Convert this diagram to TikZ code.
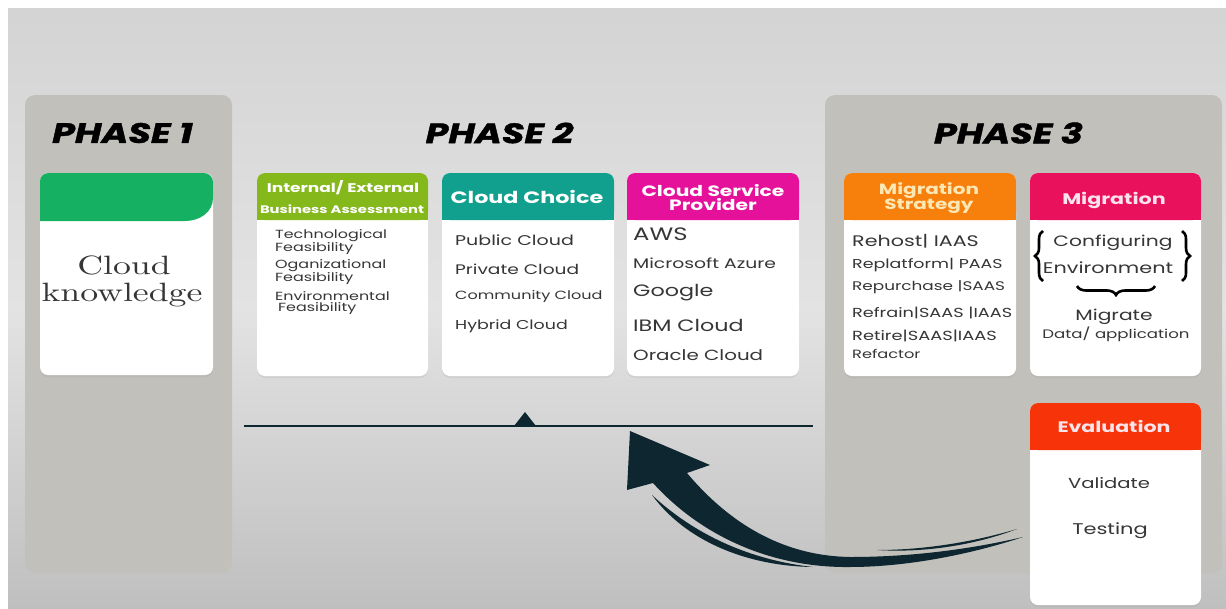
\documentclass[tikz,border=0pt]{standalone}
\usepackage{fontspec}
\setsansfont{Poppins}[FakeStretch=1.35]
\newfontfamily\phasefont{Poppins}[FakeStretch=1.3, FakeBold=1.5]
\newfontfamily\ckfont{lmroman10-regular.otf}[FakeStretch=1.35]
\usetikzlibrary{shadows,decorations.pathreplacing}
\definecolor{cgreen}{HTML}{16B062}
\definecolor{colive}{HTML}{84B81B}
\definecolor{cteal}{HTML}{12A08E}
\definecolor{cmag}{HTML}{E6119B}
\definecolor{corange}{HTML}{F7800C}
\definecolor{ccrim}{HTML}{E9115C}
\definecolor{cred}{HTML}{F73409}
\definecolor{ccol}{HTML}{C2C0BA}
\definecolor{carrow}{HTML}{0E2630}
\definecolor{ctext}{HTML}{363636}
\definecolor{cpaleY}{HTML}{FDE7B4}
\definecolor{cpaleP}{HTML}{FBE3EC}
\tikzset{
  cardbody/.style={fill=white, rounded corners=8pt, draw=none, inner sep=0pt,
    drop shadow={shadow xshift=0pt, shadow yshift=-2pt, opacity=0.12}},
  column/.style={fill=ccol, rounded corners=10pt},
  phase/.style={font=\phasefont\bfseries\itshape\fontsize{28}{28}\selectfont, text=black, inner sep=0pt},
  hd/.style={font=\sffamily\bfseries\fontsize{#1}{14}\selectfont, text=white, inner sep=0pt, align=center},
  it/.style={font=\sffamily\fontsize{#1}{#1}\selectfont, text=ctext, inner sep=0pt, anchor=west},
  itc/.style={font=\sffamily\fontsize{#1}{#1}\selectfont, text=ctext, inner sep=0pt},
  two/.style={font=\sffamily\fontsize{11.8}{11}\selectfont, text=ctext, inner sep=0pt, align=left, anchor=north west},
  ckstyle/.style={font=\ckfont\fontsize{26.5}{24}\selectfont, text=ctext, inner sep=0pt, anchor=base},
  brc/.style={draw=black, line width=2.6pt, decorate},
}
\newcommand{\mkcard}[7]{%
  \node[cardbody, minimum width={#4-#2}, minimum height={#5-#3}] (#1) at ({(#2+#4)/2},{(#3+#5)/2}) {};
  \fill[#7, rounded corners=8pt] (#2,#3) rectangle (#4,#6);
  \fill[#7] (#2,{#3+10}) rectangle (#4,#6);
}
\begin{document}
\begin{tikzpicture}[x=1pt,y=-1pt]
\useasboundingbox (0,0) rectangle (1226,608);
\fill[white] (0,0) rectangle (1226,608);
% background
\shade[top color=gray!34, bottom color=gray!50, middle color=gray!22] (8,8) rectangle (1226,608);
% columns
\fill[column] (25,95) rectangle (232,573);
\fill[column] (825,95) rectangle (1222,573);
% phase titles
\node[phase] (p1) at (122.5,133) {PHASE 1};
\node[phase] (p2) at (499.5,133) {PHASE 2};
\node[phase] (p3) at (1008.5,133) {PHASE 3};
% phase 1 card
\node[cardbody, minimum width=173, minimum height=202] (c1) at (126.5,274) {};
\fill[cgreen] (40,221) -- (40,181) .. controls (40,176) and (44,173) .. (49,173) -- (204,173)
  .. controls (209,173) and (213,177) .. (213,182) -- (213,198) .. controls (213,212) and (200,221) .. (185,221) -- cycle;
\node[ckstyle] (ck1) at (124,274) {Cloud};
\node[ckstyle] (ck2) at (122,301) {knowledge};
% phase 2 cards
\mkcard{ca}{257}{173}{428}{376}{220}{colive}
\node[hd=12.6] (cah1) at (343,188) {Internal/ External};
\node[hd=10.9] (cah2) at (342,209) {Business Assessment};
\node[two] (ca1) at (275,229) {Technological\\Feasibility};
\node[two] (ca2) at (275,259) {Oganizational\\Feasibility};
\node[two] (ca3) at (275,291) {Environmental\\\hspace*{3pt}Feasibility};
\mkcard{cb}{442}{173}{614}{376}{220}{cteal}
\node[hd=16.5] (cbh) at (527,197) {Cloud Choice};
\node[it=14.1] (cb1) at (455,240) {Public Cloud};
\node[it=13.8] (cb2) at (455,269) {Private Cloud};
\node[it=11.9] (cb3) at (455,297) {Community Cloud};
\node[it=12.9] (cb4) at (455,326) {Hybrid Cloud};
\mkcard{cc}{627}{173}{799}{376}{220}{cmag}
\node[hd=15] (cch) at (713,198) {Cloud Service\\Provider};
\node[it=18] (cc1) at (633,234) {AWS};
\node[it=13.9] (cc2) at (633,263) {Microsoft Azure};
\node[it=16.5] (cc3) at (633,293) {Google};
\node[it=16.5] (cc4) at (633,325) {IBM Cloud};
\node[it=14.7] (cc5) at (633,355) {Oracle Cloud};
% phase 3 cards
\mkcard{cd}{844}{173}{1016}{376}{220}{corange}
\node[hd=14.8, text=cpaleY] (cdh) at (929,198) {Migration\\Strategy};
\node[it=15.3] (cd1) at (852,241) {Rehost| IAAS};
\node[it=12.9] (cd2) at (852,265) {Replatform| PAAS};
\node[it=12.5] (cd3) at (852,287) {Repurchase |SAAS};
\node[it=13.1] (cd4) at (852,313) {Refrain|SAAS |IAAS};
\node[it=13.2] (cd5) at (852,336) {Retire|SAAS|IAAS};
\node[it=12] (cd6) at (852,354) {Refactor};
\mkcard{ce}{1030}{173}{1201}{376}{220}{ccrim}
\node[hd=15.3, text=cpaleP] (ceh) at (1114,200) {Migration};
\node[itc=15] (ce1) at (1113,243) {Configuring};
\node[itc=15.4] (ce2) at (1108,268) {Environment};
\draw[brc, decoration={brace, amplitude=8pt}] (1043,281) -- (1043,231);
\draw[brc, decoration={brace, amplitude=8pt}] (1182,231) -- (1182,281);
\draw[brc, decoration={brace, amplitude=9pt}] (1155,286) -- (1077,286);
\node[itc=15] (ce3) at (1114,317) {Migrate};
\node[itc=12.3] (ce4) at (1116,334) {Data/ application};
\mkcard{cf}{1030}{403}{1201}{605}{450}{cred}
\node[hd=15.2, text=cpaleP] (cfh) at (1114,426) {Evaluation};
\node[itc=14.5] (cf1) at (1109,483) {Validate};
\node[itc=15.5] (cf2) at (1110,531) {Testing};
% timeline
\coordinate (tl) at (244,426);
\coordinate (tr) at (813,426);
\draw[carrow, line width=1.6pt] (tl) -- (tr);
\fill[carrow] (514,426) -- (525,412) -- (536,426) -- cycle;
% big return arrow
\fill[carrow] (630,431) -- (710,465) -- (687,473)
  .. controls (735,530) and (790,556) .. (850,557)
  .. controls (920,557) and (980,547) .. (1023,537)
  .. controls (975,553) and (910,567) .. (850,567)
  .. controls (770,568) and (700,535) .. (653,483)
  -- (627,490) -- cycle;
\fill[carrow] (652,495) .. controls (695,535) and (750,560) .. (813,567)
  .. controls (745,566) and (685,540) .. (652,495) -- cycle;
\fill[carrow] (877,550) .. controls (930,550) and (980,540) .. (1017,529)
  .. controls (975,545) and (925,553) .. (877,550) -- cycle;
\end{tikzpicture}
\end{document}
